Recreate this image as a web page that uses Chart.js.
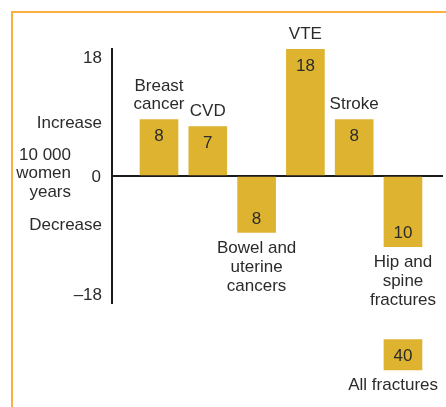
<!DOCTYPE html>
<html><head><meta charset="utf-8">
<script src="https://cdn.jsdelivr.net/npm/chart.js@4/dist/chart.umd.min.js"></script>
<style>html,body{margin:0;padding:0;background:#fff;overflow:hidden}canvas{display:block}</style>
</head><body>
<canvas id="c" width="446" height="407"></canvas>
<script>
// ---- data ----
const categories = [["Breast", "cancer"], ["CVD"], ["Bowel and", "uterine", "cancers"], ["VTE"], ["Stroke"], ["Hip and", "spine", "fractures"]];
const values = [8, 7, -8, 18, 8, -10];
const extraCategory = ["All fractures"];
const extraValue = [40];
const yTickValues = [18, 0, -18];
const yTickLabels = ["18", "0", "\u201318"];
const yNoteUp = ["Increase"];
const yNoteUnit = ["10 000", "women", "years"];
const yNoteDown = ["Decrease"];

// ---- styles / layout ----
const GOLD = "#DDB330";
const ORANGE = "#FBB040";
const INK = "#2b2b2b";
const FONT = '17px "Liberation Sans", Arial, sans-serif';
const BREAK_BOX = [-23.2, -27.5];   // where the off-scale "All fractures" box sits
const EXTRA_SLOT = 5;               // drawn under the last category

const texts = {
  id: "texts",
  beforeDraw(chart) {
    const c = chart.ctx;
    c.save();
    c.fillStyle = "#fff";
    c.fillRect(0, 0, chart.width, chart.height);
    c.strokeStyle = ORANGE; c.lineWidth = 2;
    c.beginPath(); c.moveTo(12, chart.height); c.lineTo(12, 12); c.lineTo(chart.width, 12); c.stroke();
    c.restore();
  },
  afterDatasetsDraw(chart) {
    const c = chart.ctx, ys = chart.scales.y;
    c.save();
    c.font = FONT; c.fillStyle = INK; c.textAlign = "center"; c.textBaseline = "middle";
    chart.getDatasetMeta(0).data.forEach((bar, i) => {
      const v = values[i], lines = categories[i];
      const top = Math.min(bar.y, bar.base), bot = Math.max(bar.y, bar.base);
      if (v >= 0) {
        c.fillText(String(Math.abs(v)), bar.x, top + 17);
        lines.forEach((l, k) => c.fillText(l, bar.x, top - 15 - (lines.length - 1 - k) * 18));
      } else {
        c.fillText(String(Math.abs(v)), bar.x, bot - 13);
        lines.forEach((l, k) => c.fillText(l, bar.x, bot + 16 + k * 19));
      }
    });
    chart.getDatasetMeta(1).data.forEach((bar, i) => {
      const top = Math.min(bar.y, bar.base), bot = Math.max(bar.y, bar.base);
      c.fillText(String(extraValue[i]), bar.x, (top + bot) / 2 + 1);
      const w = c.measureText(extraCategory[i]).width;
      const cx = Math.min(bar.x, chart.width - 8 - w / 2);
      c.fillText(extraCategory[i], cx, bot + 15);
    });
    // y axis labels
    c.textAlign = "right";
    const xr = ys.right - 10;
    yTickValues.forEach((v, i) => {
      const py = ys.getPixelForValue(v);
      if (v === ys.max) { c.textBaseline = "top"; c.fillText(yTickLabels[i], xr, py + 1); }
      else if (v === ys.min) { c.textBaseline = "bottom"; c.fillText(yTickLabels[i], xr, py + 1); }
      else { c.textBaseline = "middle"; c.fillText(yTickLabels[i], xr - 1, py + 1); }
    });
    c.textBaseline = "middle";
    c.fillText(yNoteUp[0], xr, ys.getPixelForValue(7.5));
    c.fillText(yNoteDown[0], xr, ys.getPixelForValue(-7));
    yNoteUnit.forEach((l, k) => c.fillText(l, ys.right - 41, ys.getPixelForValue(3) + k * 18.5));
    c.restore();
  }
};

new Chart(document.getElementById("c"), {
  type: "bar",
  data: {
    datasets: [
      { data: values.map((v, i) => ({ x: i, y: v })), backgroundColor: GOLD, barThickness: 38, grouped: false },
      { data: extraValue.map(() => ({ x: EXTRA_SLOT, y: BREAK_BOX })), backgroundColor: GOLD, barThickness: 38, grouped: false, clip: false }
    ]
  },
  options: {
    responsive: false,
    animation: false,
    layout: { padding: { top: 49, bottom: 104, right: 3, left: 0 } },
    plugins: { legend: { display: false }, tooltip: { enabled: false } },
    scales: {
      x: { type: "linear", display: false, offset: false, min: -0.963, max: 5.82 },
      y: {
        min: -18, max: 18,
        afterFit(s) { s.width = 112; },
        ticks: { display: false, stepSize: 18 },
        grid: { color: (ctx) => (ctx.tick && ctx.tick.value === 0 ? "#1a1a1a" : "rgba(0,0,0,0)"), lineWidth: 2, drawTicks: false },
        border: { display: true, color: "#1a1a1a", width: 2 }
      }
    }
  },
  plugins: [texts]
});
</script>
</body></html>
